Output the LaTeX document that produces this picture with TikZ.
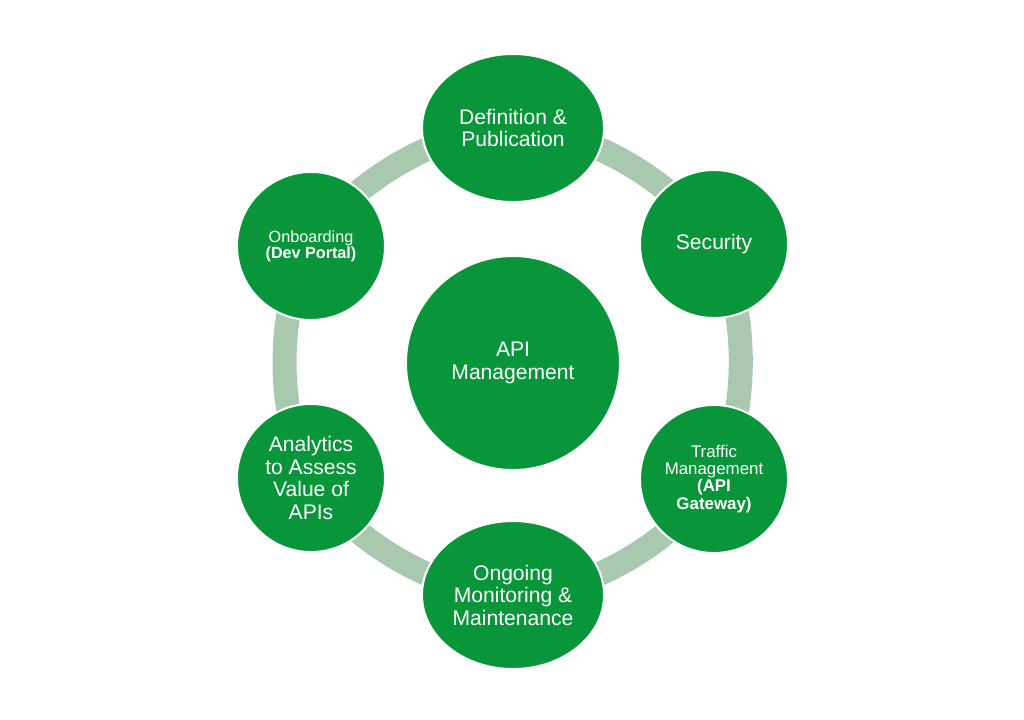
\documentclass[tikz,border=0pt]{standalone}
\usepackage{fontspec}
\setmainfont{Liberation Sans}
\usetikzlibrary{shapes.geometric}
\definecolor{apigreen}{HTML}{09963A}
\definecolor{ringgreen}{HTML}{A9C9AF}
\tikzset{
  base/.style={fill=apigreen, draw=white, line width=0.05cm, text=white, align=center, inner sep=0pt},
  hub/.style={base, circle, minimum size=5.35cm, font=\fontsize{15}{15.8}\selectfont},
  sat/.style={base, circle, minimum size=3.7cm},
  oval/.style={base, ellipse, minimum width=4.55cm, minimum height=3.7cm, font=\fontsize{15}{15.6}\selectfont},
  ring/.style={draw=ringgreen, line width=0.6cm, bend left=30, looseness=0.78},
}
\begin{document}
\begin{tikzpicture}[x=0.025cm, y=-0.025cm]
\useasboundingbox (0,0) rectangle (1024,719);
\fill[white] (0,0) rectangle (1024,719);
% node positions
\coordinate (pdef) at (513,128);
\coordinate (psec) at (714,244);
\coordinate (ptra) at (714,479);
\coordinate (pong) at (513,595);
\coordinate (pana) at (311,478);
\coordinate (ponb) at (311,246);
% ring connectors
\draw[ring] (pdef) to (psec);
\draw[ring] (psec) to (ptra);
\draw[ring] (ptra) to (pong);
\draw[ring] (pong) to (pana);
\draw[ring] (pana) to (ponb);
\draw[ring] (ponb) to (pdef);
% nodes
\node[hub] (hub) at (513,363) {API\\Management};
\node[oval] (def) at (pdef) {Definition \&\\Publication};
\node[sat, font=\fontsize{15}{15.6}\selectfont] (sec) at (psec) {Security};
\node[sat, font=\fontsize{12}{12.2}\selectfont] (tra) at (ptra) {Traffic\\Management\\\textbf{(API}\\\textbf{Gateway)}};
\node[oval, font=\fontsize{15}{16}\selectfont] (ong) at (pong) {Ongoing\\Monitoring \&\\Maintenance};
\node[sat, font=\fontsize{15}{16}\selectfont] (ana) at (pana) {Analytics\\to Assess\\Value of\\APIs};
\node[sat, font=\fontsize{11.5}{11.5}\selectfont] (onb) at (ponb) {Onboarding\\\textbf{(Dev Portal)}};
\end{tikzpicture}
\end{document}
